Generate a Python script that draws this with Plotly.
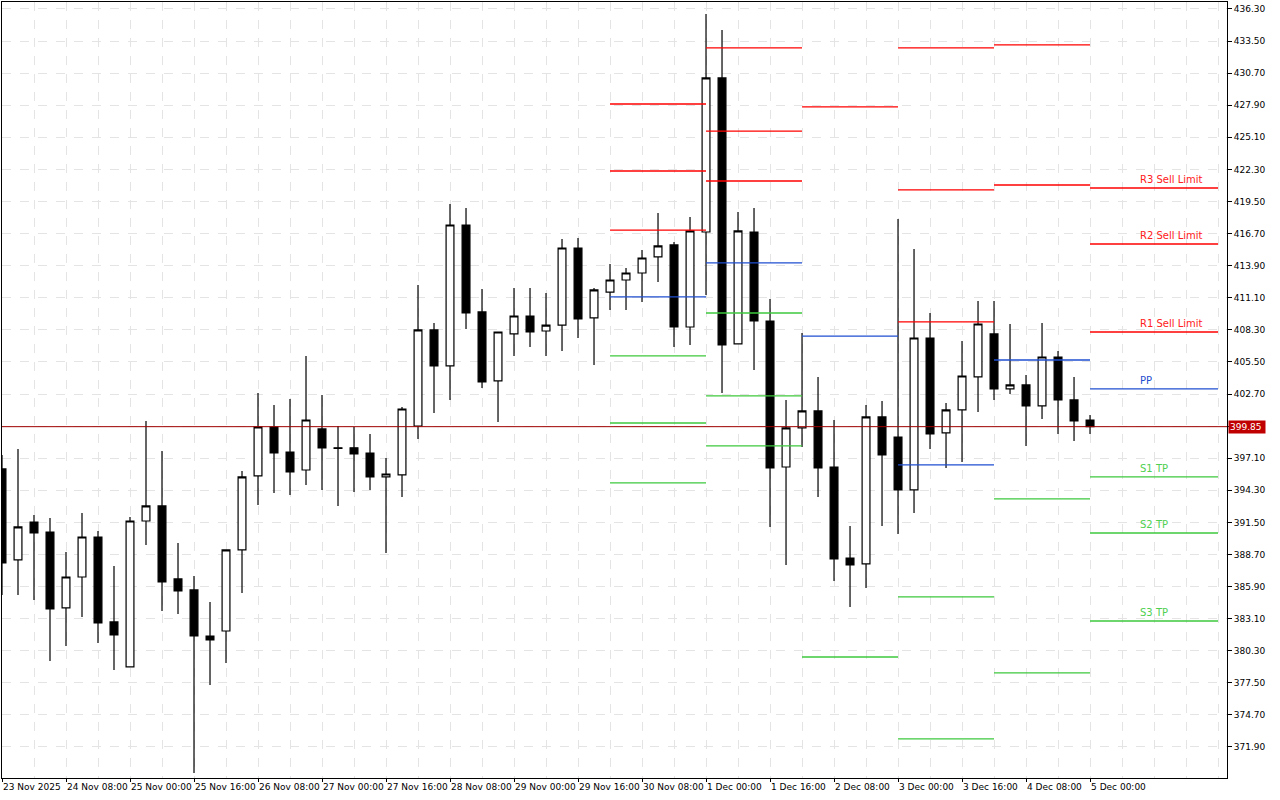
import plotly.graph_objects as go

# OHLC, H4 candles
opens  = [396.16,388.22,391.53,390.66,384.03,386.73,390.22,382.81,378.88,391.62,392.93,386.56,385.60,381.58,382.02,389.09,
          395.55,399.82,397.64,396.07,399.65,398.00,398.00,397.55,395.46,395.64,399.91,408.29,405.15,417.45,409.86,403.84,
          407.94,409.51,408.20,408.72,415.44,409.34,411.60,412.65,413.26,414.66,415.71,408.55,416.84,430.28,407.07,416.84,
          409.07,396.33,399.74,401.22,396.33,388.39,387.87,400.70,398.95,394.33,407.59,399.30,401.31,404.19,407.94,403.14,
          403.49,401.66,405.93,402.18,400.43]
highs  = [397.38,397.90,392.14,391.88,388.92,392.32,390.75,387.69,391.97,400.35,397.73,389.70,386.82,384.55,389.09,395.98,
          402.79,401.74,402.27,406.02,402.62,399.91,399.82,399.21,397.12,401.57,412.22,408.90,419.28,418.93,411.87,408.11,
          411.95,411.95,411.52,416.23,416.32,411.95,414.05,413.70,415.27,418.50,415.97,418.15,435.86,434.47,418.59,418.93,
          410.99,402.18,408.03,404.19,400.43,391.18,401.74,402.09,417.97,415.36,409.77,401.92,407.33,410.82,410.82,408.81,
          404.36,408.90,406.46,404.19,400.87]
lows   = [385.16,385.16,384.73,379.40,380.71,383.24,380.97,378.62,378.88,389.53,383.77,383.50,369.63,377.31,379.23,385.34,
          393.02,394.06,393.89,394.76,394.33,392.93,394.15,394.33,388.83,393.72,398.78,401.05,402.18,408.38,403.23,400.26,
          406.02,406.80,406.02,406.46,407.59,405.23,410.03,410.03,410.73,412.48,406.80,406.98,411.34,402.79,407.07,404.80,
          391.10,387.78,398.08,393.72,386.39,384.12,385.77,391.18,390.49,392.32,397.90,396.25,396.77,401.13,402.18,402.70,
          398.17,400.52,399.21,398.60,399.21]
closes = [387.96,391.10,390.57,383.94,386.73,390.22,382.72,381.67,391.62,392.93,386.30,385.51,381.58,381.24,389.09,395.46,
          399.82,397.55,395.90,400.43,397.99,397.95,397.47,395.46,395.72,401.39,408.29,405.15,417.45,409.77,403.75,408.11,
          409.51,408.11,408.72,415.44,409.25,411.78,412.65,413.26,414.57,415.62,408.55,416.93,430.28,406.98,416.93,409.07,
          396.25,399.74,401.22,396.25,388.30,387.78,400.70,397.38,394.33,407.59,399.21,401.31,404.27,408.81,403.14,403.49,
          401.66,405.93,402.18,400.35,399.85]

tick_idx = [0,4,8,12,16,20,24,28,32,36,40,44,48,52,56,60,64,68]
tick_labels = ["23 Nov 2025","24 Nov 08:00","25 Nov 00:00","25 Nov 16:00","26 Nov 08:00","27 Nov 00:00",
               "27 Nov 16:00","28 Nov 08:00","29 Nov 00:00","29 Nov 16:00","30 Nov 08:00","1 Dec 00:00",
               "1 Dec 16:00","2 Dec 08:00","3 Dec 00:00","3 Dec 16:00","4 Dec 08:00","5 Dec 00:00"]

# pivot levels per day: (start index, end index, [(price, kind)])
pivot_starts = [38,44,50,56,62,68]
pivot_ends   = [44,50,56,62,68,76]
pivot_levels = [
    [(428.01,"r"),(422.16,"r"),(417.01,"r"),(411.17,"b"),(406.02,"g"),(400.17,"g"),(394.94,"g")],
    [(432.90,"r"),(425.65,"r"),(421.29,"r"),(414.14,"b"),(409.77,"g"),(402.53,"g"),(398.17,"g")],
    [(427.75,"r"),(407.76,"b"),(379.75,"g")],
    [(432.90,"r"),(420.51,"r"),(408.99,"r"),(396.51,"b"),(384.99,"g"),(372.60,"g")],
    [(433.16,"r"),(420.94,"r"),(405.67,"b"),(393.54,"g"),(378.36,"g")],
    [(420.68,"r"),(415.79,"r"),(408.11,"r"),(403.14,"b"),(395.46,"g"),(390.57,"g"),(382.89,"g")],
]
last_labels = ["R3 Sell Limit","R2 Sell Limit","R1 Sell Limit","PP","S1 TP","S2 TP","S3 TP"]
current_price = 399.85
y_ticks = [round(371.9 + 2.8*k, 2) for k in range(24)]

colors = {"r": "#ff0000", "b": "#1f4fd0", "g": "#3cc83c"}
label_colors = {"r": "#ff2020", "b": "#1f4fd0", "g": "#50d050"}

x = list(range(len(opens)))
fig = go.Figure()
fig.add_trace(go.Candlestick(
    x=x, open=opens, high=highs, low=lows, close=closes,
    increasing=dict(line=dict(color="black", width=1.2), fillcolor="white"),
    decreasing=dict(line=dict(color="black", width=1.2), fillcolor="black"),
    whiskerwidth=0, hoverinfo="skip", showlegend=False))

for s, e, lv in zip(pivot_starts, pivot_ends, pivot_levels):
    for p, k in lv:
        fig.add_shape(type="line", x0=s, x1=e, y0=p, y1=p, xref="x", yref="y",
                      line=dict(color=colors[k], width=1.3))
for (p, k), t in zip(pivot_levels[-1], last_labels):
    fig.add_annotation(x=71, y=p, text=t, showarrow=False, xanchor="left", yanchor="bottom",
                       yshift=1, font=dict(family="DejaVu Sans", size=10, color=label_colors[k]))

fig.add_shape(type="line", xref="paper", x0=0, x1=1, y0=current_price, y1=current_price, yref="y",
              line=dict(color="#a00000", width=1))
fig.add_annotation(xref="paper", x=1, y=current_price, text=f"{current_price:.2f}&nbsp;", showarrow=False,
                   xanchor="left", bgcolor="#c00000", font=dict(family="DejaVu Sans", size=9, color="white"),
                   borderpad=1, xshift=1)

y_text = ["" if abs(v - current_price) < 0.5 else f"{v:.2f}" for v in y_ticks]

fig.update_layout(
    width=1280, height=800, margin=dict(l=2, r=53, t=2, b=22),
    paper_bgcolor="white", plot_bgcolor="white",
    xaxis=dict(range=[0, 76.56], tickvals=tick_idx, ticktext=tick_labels, ticklabelposition="outside right",
               tickangle=0, automargin=False,
               showgrid=True, gridcolor="#e4e4e4", griddash="dash",
               minor=dict(dtick=2, tick0=0, showgrid=True, gridcolor="#e4e4e4", griddash="dash"),
               rangeslider=dict(visible=False), showline=True, linecolor="black", mirror=True,
               ticks="outside", ticklen=3, tickcolor="black",
               tickfont=dict(family="DejaVu Sans", size=9, color="black"), zeroline=False),
    yaxis=dict(side="right", range=[369.19, 436.91], tickvals=y_ticks, ticktext=y_text,
               automargin=False,
               showgrid=True, gridcolor="#e4e4e4", griddash="dash", showline=True, linecolor="black", mirror=True,
               ticks="outside", ticklen=4, tickcolor="black",
               tickfont=dict(family="DejaVu Sans", size=9, color="black"), zeroline=False),
)
fig.write_html("out.html", config={"displayModeBar": False})
with open("out.html", encoding="utf-8") as f:
    html = f.read()
html = html.replace("<body>", '<body style="margin:0;padding:0;">', 1)
with open("out.html", "w", encoding="utf-8") as f:
    f.write(html)
